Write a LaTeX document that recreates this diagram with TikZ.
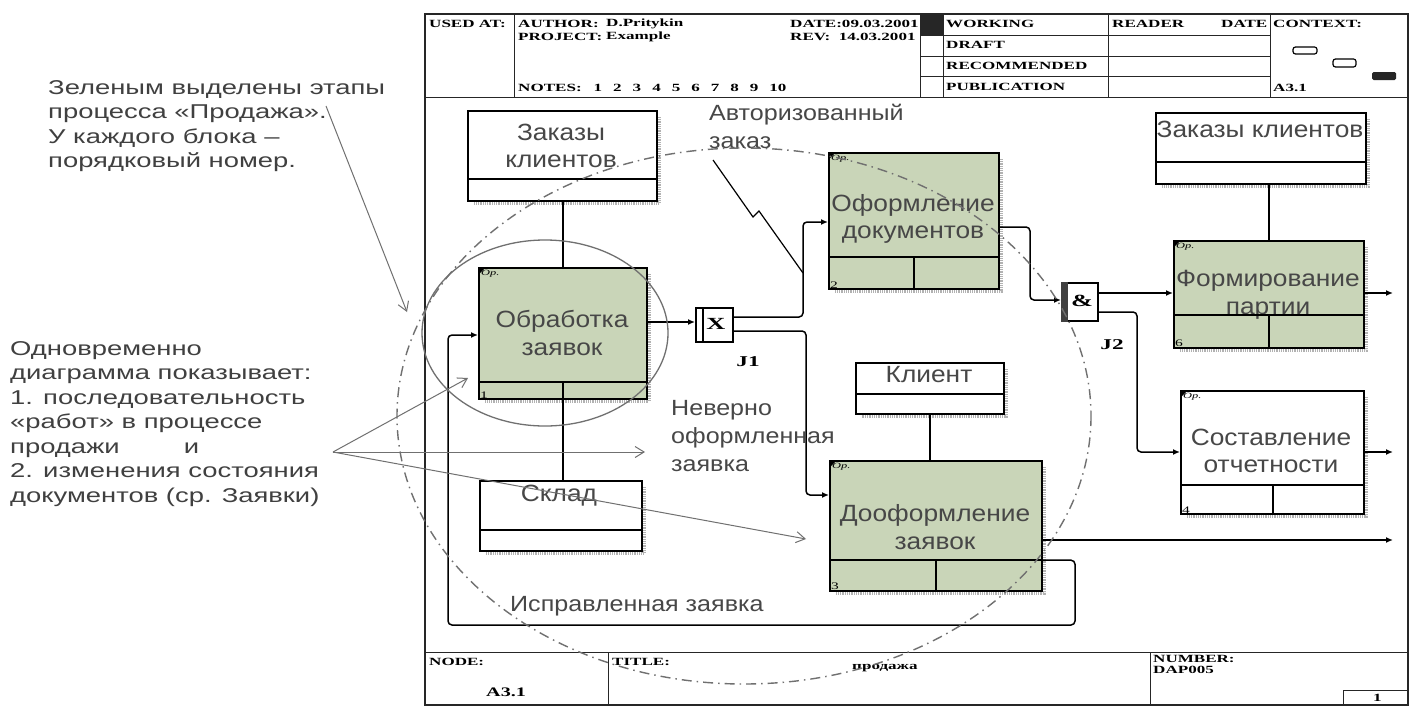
\documentclass[tikz,border=0pt]{standalone}
\usepackage{fontspec}
\setmainfont{Liberation Sans}
\newfontfamily\lblfont[FakeStretch=1.12]{Liberation Sans}
\newfontfamily\freefont[FakeStretch=1.14]{Liberation Sans}
\newfontfamily\notefont[FakeStretch=1.37]{Liberation Sans}
\newfontfamily\hdrfont[FakeStretch=1.55]{Liberation Serif}
\usetikzlibrary{arrows.meta,calc}
\definecolor{actgreen}{RGB}{201,213,184}
\definecolor{notegray}{RGB}{64,64,64}
\definecolor{anngray}{RGB}{112,112,112}
\tikzset{
 frame/.style={draw=black!85, line width=1.3pt},
 hline/.style={draw=black!85, line width=1pt},
 ibox/.style={draw=black, line width=2.2pt, inner sep=0pt, anchor=north west},
 sepline/.style={draw=black, line width=2pt},
 shadowln/.style={draw=gray!60, line width=4pt, dash pattern=on 0.9pt off 0.9pt},
 lbl/.style={font=\lblfont\fontsize{23.5}{27.5}\selectfont, text=black!72, align=center, inner sep=0pt},
 freelbl/.style={font=\freefont\fontsize{22}{28}\selectfont, text=black!72, align=left, anchor=north west, inner sep=0pt},
 note/.style={font=\notefont\fontsize{20}{24.5}\selectfont, text=notegray, align=left, anchor=north west, inner sep=0pt},
 hdr/.style={font=\hdrfont\bfseries\fontsize{11}{12}\selectfont, anchor=west, inner sep=0pt},
 flow/.style={draw=black, line width=1.5pt, rounded corners=4pt, -{Latex[length=7pt,width=6pt]}},
 plain/.style={draw=black, line width=1.5pt},
 ann/.style={draw=anngray, line width=1pt, -{Straight Barb[length=9pt,width=11pt]}},
 ring/.style={draw=anngray, line width=1.3pt},
 dashring/.style={draw=anngray, line width=1.4pt, dash pattern=on 10pt off 5pt on 1.5pt off 5pt},
 numlbl/.style={font=\hdrfont\fontsize{10}{10}\selectfont, anchor=south west, inner sep=2pt},
 opmark/.style={font=\hdrfont\itshape\fontsize{8}{8}\selectfont, anchor=north west, inner sep=3pt},
 jbox/.style={draw=black, line width=1.8pt, fill=white, inner sep=0pt, anchor=north west},
 jsym/.style={font=\hdrfont\bfseries\fontsize{17}{17}\selectfont, inner sep=0pt},
 jlbl/.style={font=\hdrfont\bfseries\fontsize{15}{15}\selectfont, inner sep=0pt},
}
% #1 name, #2 x, #3 y, #4 width, #5 height, #6 fill, #7 separator height
\newcommand\idefbox[7]{%
 \draw[shadowln] ({#2+#4+3},{#3+7}) -- ({#2+#4+3},{#3+#5+3}) -- ({#2+7},{#3+#5+3});
 \node[ibox, fill=#6, minimum width=#4, minimum height=#5] (#1) at (#2,#3) {};
 \draw[sepline] ($(#1.south west)+(0,-#7)$) -- ($(#1.south east)+(0,-#7)$);
}
\begin{document}
\begin{tikzpicture}[x=1pt,y=-1pt]
\useasboundingbox (0,0) rectangle (1412,707);
\fill[white] (0,0) rectangle (1412,707);

% ---------- frame ----------
\draw[frame] (425,14) rectangle (1408,705);
\draw[hline] (425,97) -- (1408,97);
\draw[hline] (425,652) -- (1408,652);
\foreach \x in {514,920,943,1108,1270} \draw[hline] (\x,14) -- (\x,97);
\foreach \y in {35,56,76} \draw[hline] (920,\y) -- (1270,\y);
\draw[hline] (608,652) -- (608,705);
\draw[hline] (1150,652) -- (1150,705);
\draw[hline] (1343,690) rectangle (1408,705);

% header texts
\node[hdr] (hused) at (429,24) {USED AT:};
\node[hdr] (hauth) at (518,24) {AUTHOR:};
\node[hdr] (hauthv) at (606,24) {D.Pritykin};
\node[hdr] (hproj) at (518,37) {PROJECT:};
\node[hdr] (hprojv) at (606,37) {Example};
\node[hdr] (hdate) at (790,24) {DATE:09.03.2001};
\node[hdr] (hrev) at (790,37) {REV:\ \ 14.03.2001};
\node[hdr] (hnotes) at (518,88) {NOTES:\hspace{12pt}1\hspace{11pt}2\hspace{11pt}3\hspace{11pt}4\hspace{11pt}5\hspace{11pt}6\hspace{11pt}7\hspace{11pt}8\hspace{11pt}9\hspace{11pt}10};
\fill[white] (920.6,14.6) rectangle (942.4,96.4);
\foreach \y in {35,56,76} \draw[hline] (920,\y) -- (943,\y);
\fill[black!85] (920,14) rectangle (943,35);
\node[hdr] (hwork) at (946,24) {WORKING};
\node[hdr] (hdraft) at (946,45) {DRAFT};
\node[hdr] (hrec) at (946,66) {RECOMMENDED};
\node[hdr] (hpub) at (946,87) {PUBLICATION};
\node[hdr] (hread) at (1112,24) {READER};
\node[hdr] (hrdate) at (1221,24) {DATE};
\node[hdr] (hctx) at (1273,24) {CONTEXT:};
\node[hdr] (hctxa) at (1273,88) {A3.1};
\draw[line width=1.2pt, rounded corners=2.5pt] (1293,47) rectangle (1317,54);
\draw[line width=1.2pt, rounded corners=2.5pt] (1333,59) rectangle (1356,67);
\fill[black!85, rounded corners=1.5pt] (1372,72) rectangle (1396,80);

% footer texts
\node[hdr] (fnode) at (429,662) {NODE:};
\node[hdr, font=\hdrfont\bfseries\fontsize{13}{13}\selectfont] (fnodev) at (486,692) {A3.1};
\node[hdr] (ftitle) at (612,662) {TITLE:};
\node[hdr] (ftitlev) at (852,668) {продажа};
\node[hdr] (fnum) at (1153,659) {NUMBER:};
\node[hdr] (fnumv) at (1153,670) {DAP005};
\node[hdr] (fpage) at (1373,698) {1};

% ---------- boxes ----------
\idefbox{ctlL}{467}{110}{189}{90}{white}{23}
\idefbox{a1}{478}{267}{168}{131}{actgreen}{18}
\idefbox{a2}{828}{152}{170}{136}{actgreen}{33}
\idefbox{ctlR}{1155}{112}{210}{71}{white}{23}
\idefbox{a6}{1173}{240}{190}{107}{actgreen}{34}
\idefbox{kl}{855}{362}{148}{51}{white}{21}
\idefbox{a4}{1180}{390}{183}{123}{white}{30}
\idefbox{skl}{479}{480}{162}{70}{white}{22}
\idefbox{a3}{829}{460}{212}{130}{actgreen}{32}
\foreach \n/\h in {a1/18,a2/33,a6/34,a4/30,a3/32}{
 \draw[sepline] (\n.south) -- ++(0,-\h);
 \fill (\n.north west) -- ++(8,0) -- ++(-8,8) -- cycle;
}
\node[numlbl] (n1) at (a1.south west) {1};
\node[numlbl] (n2) at (a2.south west) {2};
\node[numlbl] (n3) at (a3.south west) {3};
\node[numlbl] (n4) at (a4.south west) {4};
\node[numlbl] (n6) at (a6.south west) {6};
\foreach \n in {a1,a2,a3,a4,a6} \node[opmark] (op\n) at (\n.north west) {Ор.};

% box labels
\node[lbl] (tctlL) at (561,146) {Заказы\\клиентов};
\node[lbl] (ta1) at (562,333) {Обработка\\заявок};
\node[lbl] (ta2) at (913,219) {Оформление\\документов};
\node[lbl] (tctlR) at (1260,129) {Заказы клиентов};
\node[lbl] (ta6) at (1268,295) {Формирование\\партии};
\draw[sepline] ($(a6.south west)+(0,-34)$) -- ($(a6.south east)+(0,-34)$);
\node[lbl] (tkl) at (929,375) {Клиент};
\node[lbl] (ta4) at (1271,451) {Составление\\отчетности};
\node[lbl] (tskl) at (559,496) {Склад};
\node[lbl] (ta3) at (935,527) {Дооформление\\заявок};

% junctions
\node[jbox, minimum width=37, minimum height=34] (j1) at (695,307) {};
\draw[line width=1.5pt] ($(j1.north west)+(8,0)$) -- ($(j1.south west)+(8,0)$);
\node[jsym] (j1s) at (716,324) {X};
\node[jlbl] (j1l) at (748,362) {J1};
\node[jbox, minimum width=36, minimum height=38] (j2) at (1061,282) {};
\fill[black!75] (j2.north west) rectangle ($(j2.south west)+(7,0)$);
\node[jsym] (j2s) at (1082,301) {\&};
\node[jlbl] (j2l) at (1112,345) {J2};

% ---------- connectors ----------
\draw[plain] (a1.north) -- (a1.north |- ctlL.south);
\draw[plain] (a1.south) -- (a1.south |- skl.north);
\draw[plain] (kl.south) -- (kl.south |- a3.north);
\draw[plain] (a6.north) -- (a6.north |- ctlR.south);

\coordinate (o6) at (1393,293);
\coordinate (o4) at (1393,452);
\coordinate (o3) at (1393,540);
\draw[flow] (a1.east |- 0,322) -- (j1.west |- 0,322);
\draw[flow] (j1.east |- 0,317) -| (803,222) -- (a2.west |- 0,222);
\draw[flow] (j1.east |- 0,331) -| (806,495) -- (a3.west |- 0,495);
\draw[flow] (a2.east |- 0,227) -| (1030,300) -- (j2.west |- 0,300);
\draw[flow] (j2.east |- 0,293) -- (a6.west |- 0,293);
\draw[flow] (j2.east |- 0,312) -| (1137,452) -- (a4.west |- 0,452);
\draw[flow] (a6.east |- 0,293) -- (o6);
\draw[flow] (a4.east |- 0,452) -- (o4);
\draw[flow] (a3.east |- 0,540) -- (o3);
\draw[flow] ($(a3.south east)+(0,-32)$) -| (1075,625) -| (448,335) -- (a1.west |- 0,335);

% free labels
\node[freelbl] (lauth) at (709,104) {Авторизованный\\заказ};
\coordinate (zz0) at (713,160);
\coordinate (zz1) at (753,217);
\coordinate (zz2) at (759,211);
\coordinate (zz3) at (803,273);
\draw[black, line width=1.2pt] (zz0) -- (zz1) -- (zz2) -- (zz3);
\node[freelbl] (lwrong) at (671,400) {Неверно\\оформленная\\заявка};
\node[freelbl, anchor=west] (lfix) at (510,606) {Исправленная заявка};

% ---------- annotation overlay ----------
\draw[ring] (545,333) ellipse [x radius=123, y radius=93];
\draw[dashring] (744,416) ellipse [x radius=347, y radius=268];

\node[note] (nt1) at (48,80) {Зеленым выделены этапы\\процесса «Продажа».\\У каждого блока –\\порядковый номер.};
\node[note] (nt2) at (10,341) {Одновременно\\диаграмма показывает:\\1. последовательность\\«работ» в процессе\\продажи\hspace{3.2em}и\\2. изменения состояния\\документов (ср. Заявки)};
\coordinate (p0) at (326,106);
\coordinate (fan) at (333,452);
\draw[ann] (p0) -- (407,312);
\draw[ann] (fan) -- (468,378);
\draw[ann] (fan) -- (645,452);
\draw[ann] (fan) -- (806,539);
\end{tikzpicture}
\end{document}
